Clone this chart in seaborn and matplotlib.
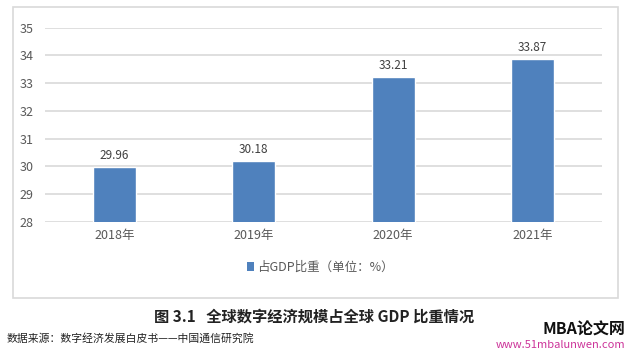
import matplotlib
matplotlib.use("Agg")
import matplotlib.pyplot as plt
import seaborn as sns
from matplotlib.patches import Rectangle, Patch

# 数据
years = ["2018年", "2019年", "2020年", "2021年"]
share = [29.96, 30.18, 33.21, 33.87]
y_ticks = [28, 29, 30, 31, 32, 33, 34, 35]

sns.set_style("white")
plt.rcParams['font.family'] = ['Noto Sans CJK SC', 'DejaVu Sans']

bar_color = "#4F81BD"
grid_color = "#D9D9D9"
text_grey = "#595959"

fig = plt.figure(figsize=(6.29, 3.51), dpi=100)

# 外框
fig.patches.append(Rectangle((0.0202, 0.151), 0.962, 0.829, transform=fig.transFigure,
                             fill=False, edgecolor=grid_color, linewidth=1.2))

ax = fig.add_axes([0.0715, 0.368, 0.8855, 0.553])
sns.barplot(x=years, y=share, color=bar_color, width=0.31, ax=ax, saturation=1)

ax.set_ylim(28, 35)
ax.set_yticks(y_ticks)
ax.yaxis.grid(True, color=grid_color, linewidth=1.2)
ax.set_axisbelow(True)
for s in ax.spines.values():
    s.set_visible(False)
ax.tick_params(axis='both', length=0, labelsize=9, labelcolor=text_grey)
ax.tick_params(axis='y', pad=8.5)
ax.tick_params(axis='x', pad=5)
ax.set_xlabel("")
ax.set_ylabel("")

for i, v in enumerate(share):
    ax.annotate(f"{v:.2f}", (i, v), xytext=(0, 4), textcoords="offset points",
                ha='center', va='bottom', fontsize=8.5, color="#404040")

handle = Patch(facecolor=bar_color, edgecolor='none')
fig.legend([handle], ["占GDP比重（单位：%）"], loc='center', bbox_to_anchor=(0.51, 0.238),
           frameon=False, fontsize=9, labelcolor=text_grey, handlelength=0.5,
           handleheight=0.8, handletextpad=0.3)

fig.text(0.5, 0.097, "图 3.1   全球数字经济规模占全球 GDP 比重情况", ha='center', va='center',
         fontsize=11, fontweight='bold', color="#222222")
fig.text(0.011, 0.037, "数据来源：数字经济发展白皮书——中国通信研究院", ha='left', va='center',
         fontsize=7.8, color="#222222")
fig.text(0.994, 0.062, "MBA论文网", ha='right', va='center', fontsize=11.5,
         fontweight='bold', fontstyle='italic', color="#111111")
fig.text(0.994, 0.017, "www.51mbalunwen.com", ha='right', va='center', fontsize=8,
         fontstyle='italic', color="#CC3399")

fig.savefig("out.png", dpi=100)
